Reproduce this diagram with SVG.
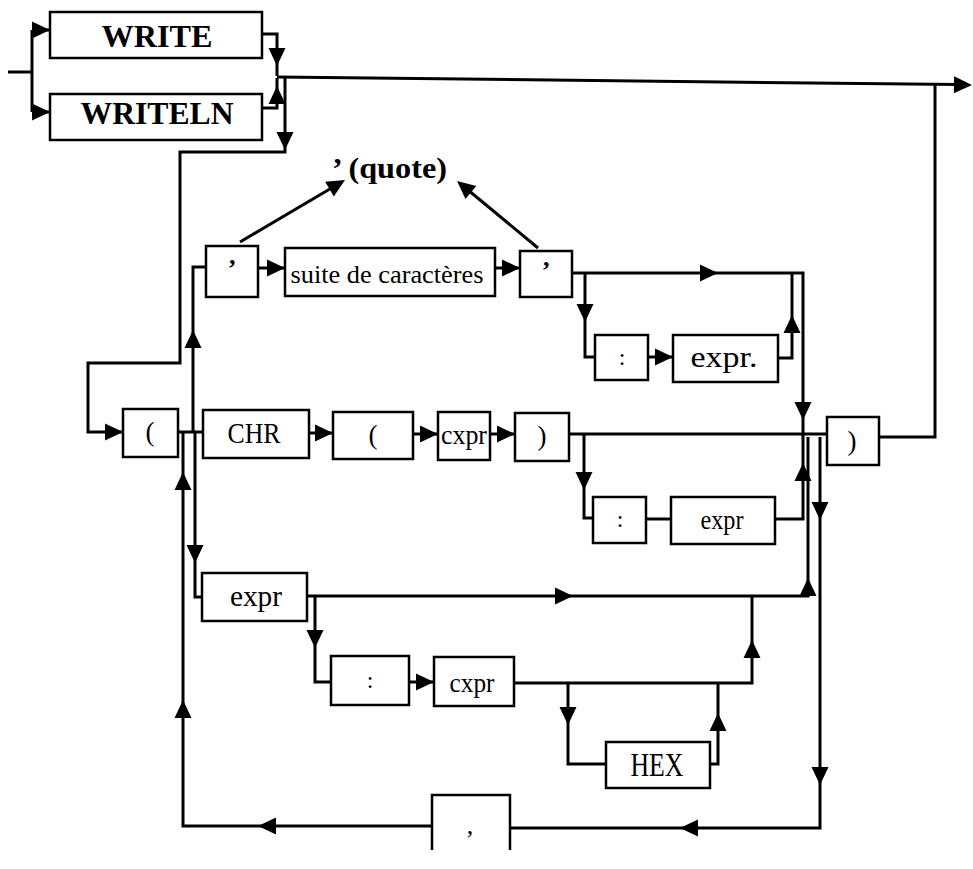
<svg xmlns="http://www.w3.org/2000/svg" xmlns:xlink="http://www.w3.org/1999/xlink" width="973" height="869" viewBox="0 0 973 869">
<style>
.box{fill:#fff;stroke:#000;stroke-width:2.5}
.ln{fill:none;stroke:#000;stroke-width:3;stroke-linejoin:miter}
.t{font-family:"Liberation Serif","Times New Roman",serif;fill:#000;text-anchor:middle}
.b{font-weight:bold}
</style>
<defs>
<path id="ah" d="M0,0 L-18,-8.5 L-18,8.5 Z" fill="#000"/>
</defs>
<rect width="973" height="869" fill="#fff"/>
<g id="connectors">
<path class="ln" d="M8,72 H32 M32,30 V112 M32,30 H50 M32,112 H50"/>
<path class="ln" d="M262,34 H277 V76"/>
<path class="ln" d="M262,108 H277 V78"/>
<path class="ln" d="M277,77 L958,84.6"/>
<path class="ln" d="M285,77 V152 H180 V363 H88 V432 H123"/>
<path class="ln" d="M879,437 H935 V84"/>
<path class="ln" d="M178,432 H203 M193,432 V267 H206"/>
<path class="ln" d="M258,268 H285"/>
<path class="ln" d="M495,268 H520"/>
<path class="ln" d="M572,273 H803 V437"/>
<path class="ln" d="M585,273 V357 H595"/>
<path class="ln" d="M648,357 H673"/>
<path class="ln" d="M778,358 H792 V273"/>
<path class="ln" d="M240,242 L340,183"/>
<path class="ln" d="M538,248 L462,185"/>
<path class="ln" d="M309,433 H333"/>
<path class="ln" d="M413,434 H438"/>
<path class="ln" d="M490,434 H515"/>
<path class="ln" d="M569,434 H827"/>
<path class="ln" d="M584,434 V518 H593"/>
<path class="ln" d="M646,519 H671"/>
<path class="ln" d="M775,519 H803 V437"/>
<path class="ln" d="M195,432 V597 H202"/>
<path class="ln" d="M306,596 H808 V437"/>
<path class="ln" d="M315,596 V682 H331"/>
<path class="ln" d="M409,682 H434"/>
<path class="ln" d="M513,683 H752 V597"/>
<path class="ln" d="M568,683 V764 H606"/>
<path class="ln" d="M710,764 H718 V683"/>
<path class="ln" d="M820,437 V828 H510"/>
<path class="ln" d="M432,826 H183 V432"/>
<use href="#ah" transform="translate(50,30)"/>
<use href="#ah" transform="translate(50,112)"/>
<use href="#ah" transform="translate(277,66) rotate(90)"/>
<use href="#ah" transform="translate(277,86) rotate(-90)"/>
<use href="#ah" transform="translate(972,85) rotate(0.66)"/>
<use href="#ah" transform="translate(285,150) rotate(90)"/>
<use href="#ah" transform="translate(123,432)"/>
<use href="#ah" transform="translate(193,330) rotate(-90)"/>
<use href="#ah" transform="translate(285,268)"/>
<use href="#ah" transform="translate(520,268)"/>
<use href="#ah" transform="translate(718,273)"/>
<use href="#ah" transform="translate(803,420) rotate(90)"/>
<use href="#ah" transform="translate(585,322) rotate(90)"/>
<use href="#ah" transform="translate(673,357)"/>
<use href="#ah" transform="translate(792,315) rotate(-90)"/>
<use href="#ah" transform="translate(345,180) rotate(-30.6)"/>
<use href="#ah" transform="translate(457,181) rotate(-140.4)"/>
<use href="#ah" transform="translate(333,433)"/>
<use href="#ah" transform="translate(438,434)"/>
<use href="#ah" transform="translate(515,434)"/>
<use href="#ah" transform="translate(584,490) rotate(90)"/>
<use href="#ah" transform="translate(803,463) rotate(-90)"/>
<use href="#ah" transform="translate(195,563) rotate(90)"/>
<use href="#ah" transform="translate(573,596)"/>
<use href="#ah" transform="translate(808,578) rotate(-90)"/>
<use href="#ah" transform="translate(315,648) rotate(90)"/>
<use href="#ah" transform="translate(434,682)"/>
<use href="#ah" transform="translate(752,640) rotate(-90)"/>
<use href="#ah" transform="translate(568,725) rotate(90)"/>
<use href="#ah" transform="translate(718,713) rotate(-90)"/>
<use href="#ah" transform="translate(820,520) rotate(90)"/>
<use href="#ah" transform="translate(820,785) rotate(90)"/>
<use href="#ah" transform="translate(680,828) rotate(180)"/>
<use href="#ah" transform="translate(258,826) rotate(180)"/>
<use href="#ah" transform="translate(183,700) rotate(-90)"/>
<use href="#ah" transform="translate(183,472) rotate(-90)"/>
</g>
<g id="quote-label"><text class="t b" x="332" y="178" font-size="30" textLength="115" lengthAdjust="spacingAndGlyphs" style="text-anchor:start">’ (quote)</text></g>
<g id="n-write"><rect class="box" x="50" y="12" width="212" height="46"/><text class="t b" x="157" y="47" font-size="32" textLength="111" lengthAdjust="spacingAndGlyphs">WRITE</text></g>
<g id="n-writeln"><rect class="box" x="50" y="94" width="212" height="46"/><text class="t b" x="157" y="124" font-size="32" textLength="153" lengthAdjust="spacingAndGlyphs">WRITELN</text></g>
<g id="n-q1"><rect class="box" x="206" y="246" width="52" height="51"/><text class="t b" x="232" y="277" font-size="26">’</text></g>
<g id="n-suite"><rect class="box" x="285" y="248" width="210" height="48"/><text class="t" x="387" y="283" font-size="25" textLength="193" lengthAdjust="spacingAndGlyphs">suite de caractères</text></g>
<g id="n-q2"><rect class="box" x="520" y="251" width="52" height="46"/><text class="t b" x="546" y="279" font-size="26">’</text></g>
<g id="n-colon1"><rect class="box" x="595" y="335" width="53" height="45"/><text class="t" x="622" y="365" font-size="24">:</text></g>
<g id="n-expr1"><rect class="box" x="673" y="335" width="105" height="47"/><text class="t" x="724" y="367" font-size="29" textLength="67" lengthAdjust="spacingAndGlyphs">expr.</text></g>
<g id="n-open"><rect class="box" x="123" y="409" width="55" height="48"/><text class="t" x="150" y="441" font-size="27">(</text></g>
<g id="n-chr"><rect class="box" x="203" y="410" width="106" height="48"/><text class="t" x="254" y="443" font-size="30" textLength="53" lengthAdjust="spacingAndGlyphs">CHR</text></g>
<g id="n-open2"><rect class="box" x="333" y="412" width="80" height="47"/><text class="t" x="373" y="444" font-size="27">(</text></g>
<g id="n-expr2"><rect class="box" x="438" y="412" width="52" height="48"/><text class="t" x="464" y="444" font-size="28" textLength="46" lengthAdjust="spacingAndGlyphs">cxpr</text></g>
<g id="n-close2"><rect class="box" x="515" y="413" width="54" height="48"/><text class="t" x="542" y="445" font-size="27">)</text></g>
<g id="n-colon2"><rect class="box" x="593" y="497" width="53" height="46"/><text class="t" x="620" y="527" font-size="24">:</text></g>
<g id="n-expr3"><rect class="box" x="671" y="497" width="104" height="47"/><text class="t" x="722" y="529" font-size="27" textLength="43" lengthAdjust="spacingAndGlyphs">expr</text></g>
<g id="n-close"><rect class="box" x="827" y="417" width="52" height="48"/><text class="t" x="852" y="450" font-size="27">)</text></g>
<g id="n-expr4"><rect class="box" x="202" y="573" width="105" height="48"/><text class="t" x="256" y="606" font-size="30" textLength="52" lengthAdjust="spacingAndGlyphs">expr</text></g>
<g id="n-colon3"><rect class="box" x="331" y="656" width="78" height="49"/><text class="t" x="370" y="688" font-size="24">:</text></g>
<g id="n-expr5"><rect class="box" x="434" y="657" width="80" height="49"/><text class="t" x="472" y="692" font-size="28" textLength="45" lengthAdjust="spacingAndGlyphs">cxpr</text></g>
<g id="n-hex"><rect class="box" x="606" y="742" width="104" height="46"/><text class="t" x="657" y="776" font-size="34" textLength="53" lengthAdjust="spacingAndGlyphs">HEX</text></g>
<g id="n-comma"><path class="box" d="M432,850 V795 H510 V850"/><text class="t" x="470" y="834" font-size="26">,</text></g>
</svg>
